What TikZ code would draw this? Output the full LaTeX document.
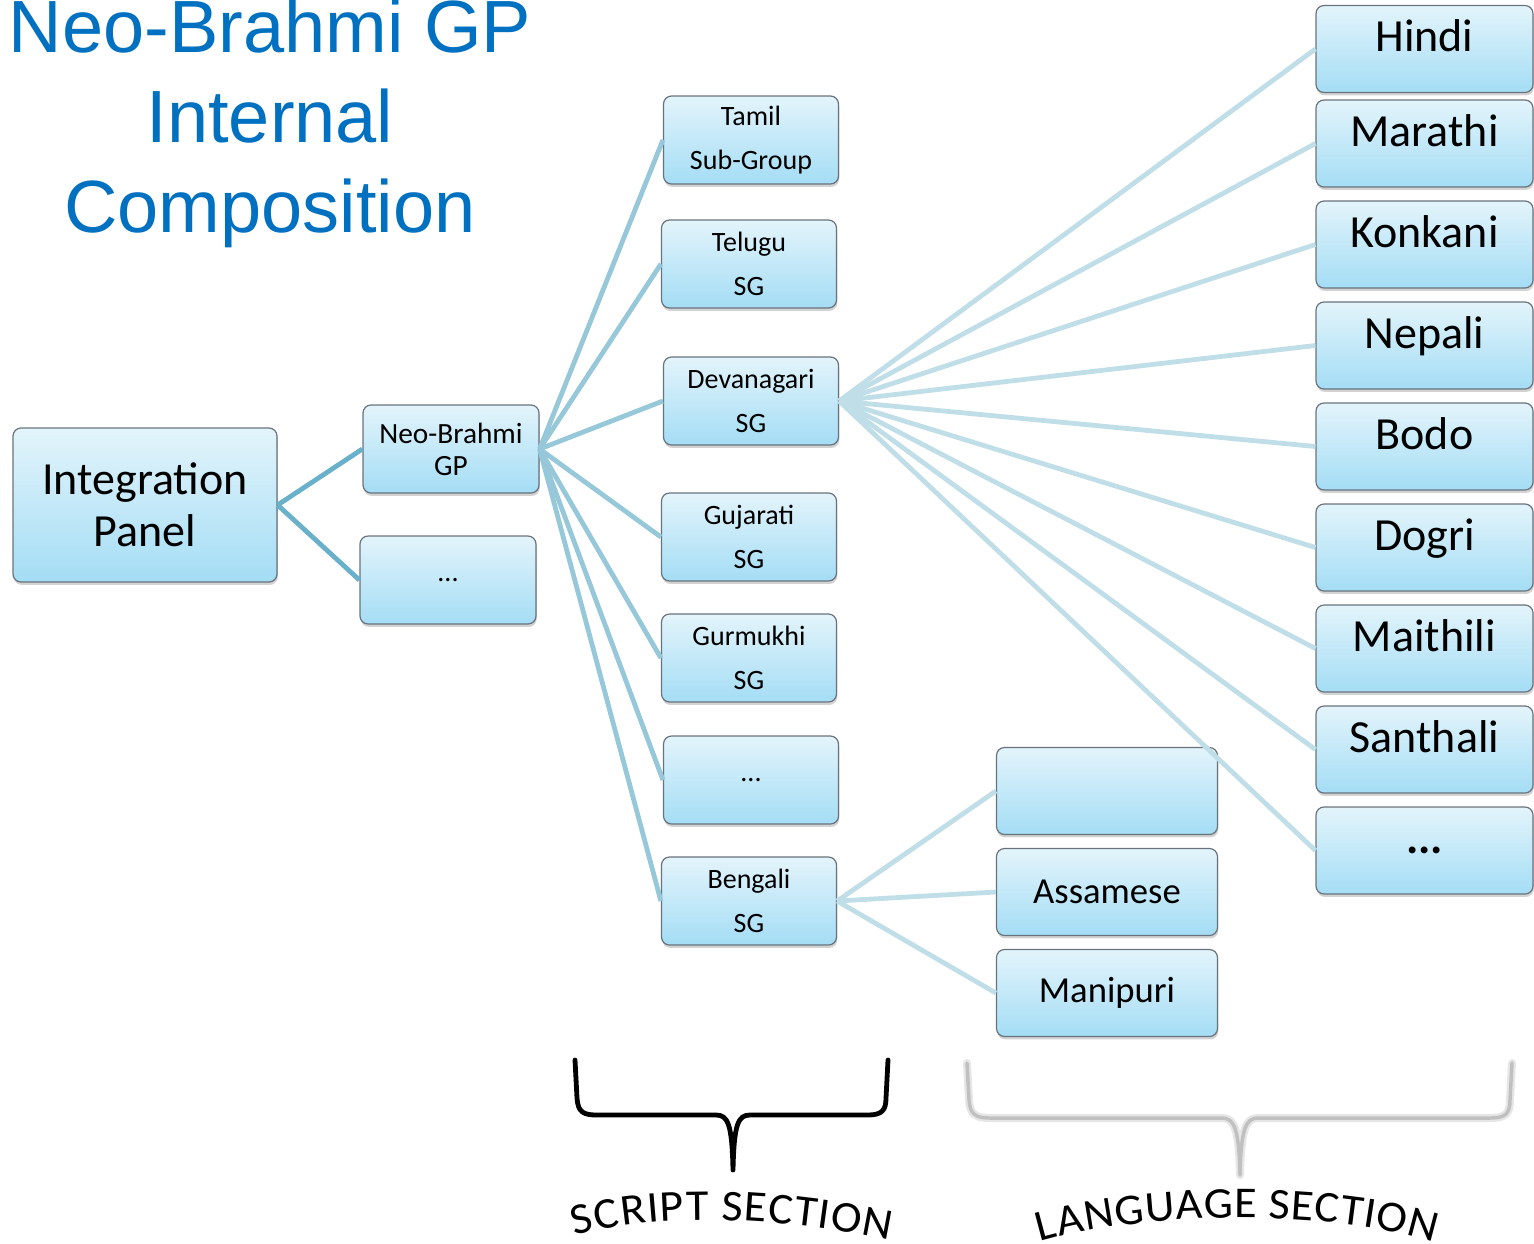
\documentclass[tikz,border=0pt]{standalone}
\usepackage{fontspec}
\setmainfont{Carlito}
\newfontfamily\titlefont{Liberation Sans}
\newfontfamily\wordfont[FakeStretch=1.05]{Carlito}
\usepackage{tikz}
\usetikzlibrary{shadows,decorations.text}

\definecolor{boxtop}{RGB}{227,244,251}
\definecolor{boxbot}{RGB}{164,221,245}
\definecolor{boxedge}{RGB}{105,115,125}
\definecolor{titleblue}{RGB}{0,112,192}
\definecolor{linkA}{RGB}{105,176,202}
\definecolor{linkB}{RGB}{150,200,218}
\definecolor{linkC}{RGB}{192,222,232}
\definecolor{bracegray}{RGB}{192,192,192}

\begin{document}
\begin{tikzpicture}[x=0.75pt,y=-0.75pt,node distance=75.75pt,line join=round]
  \tikzstyle{box}=[draw=boxedge,line width=0.9pt,rounded corners=6pt,
    top color=boxtop,bottom color=boxbot,align=center,inner sep=0pt,
    drop shadow={shadow xshift=0.6pt,shadow yshift=-2.2pt,opacity=0.35}]
  \tikzstyle{sub}=[box,minimum width=131.25pt,minimum height=66pt,
    font=\fontsize{21}{33}\selectfont]
  \tikzstyle{lang}=[box,minimum width=162.75pt,minimum height=65.25pt,
    font=\fontsize{34.5}{40}\selectfont,text height=14pt,text depth=10pt]
  \tikzstyle{langsm}=[box,minimum width=165.75pt,minimum height=65.25pt,
    font=\fontsize{27.5}{32}\selectfont]
  \tikzstyle{link}=[line width=3.6pt]

  \useasboundingbox (0,0) rectangle (1534,1243);

  \node[text=titleblue,font=\titlefont\fontsize{55.5}{67.5}\selectfont,
        align=center,anchor=base] (title) at (270,232)
        {Neo-Brahmi GP\\Internal\\Composition};

  % left part
  \node[box,minimum width=198pt,minimum height=115.5pt,
        font=\fontsize{34.5}{39}\selectfont] (integ) at (145,505) {Integration\\Panel};
  \node[sub,minimum width=132pt,font=\fontsize{22}{24}\selectfont]
        (neo) at (451,449) {Neo-Brahmi\\GP};
  \node[sub,minimum width=132pt] (other) at (448,580) {...};

  % script section
  \node[sub] (tamil)   at (751,140) {Tamil\\Sub-Group};
  \node[sub] (telugu)  at (749,264) {Telugu\\SG};
  \node[sub] (deva)    at (751,401) {Devanagari\\SG};
  \node[sub] (guj)     at (749,537) {Gujarati\\SG};
  \node[sub] (gur)     at (749,658) {Gurmukhi\\SG};
  \node[sub] (sdots)   at (751,780) {...};
  \node[sub] (beng)    at (749,901) {Bengali\\SG};

  % language section
  \node[langsm]                  (blank) at (1107,791) {};
  \node[langsm,below of=blank]   (assam) {Assamese};
  \node[langsm,below of=assam]   (mani)  {Manipuri};

  \node[lang]                    (hindi)    at (1424.5,49)    {Hindi};
  \node[lang]                    (marathi)  at (1424.5,143.5) {Marathi};
  \node[lang,below of=marathi]   (konkani)  {Konkani};
  \node[lang,below of=konkani]   (nepali)   {Nepali};
  \node[lang,below of=nepali]    (bodo)     {Bodo};
  \node[lang,below of=bodo]      (dogri)    {Dogri};
  \node[lang,below of=dogri]     (maithili) {Maithili};
  \node[lang,below of=maithili]  (santhali) {Santhali};
  \node[lang,below of=santhali]  (ldots)    {\textbf{...}};

  % connectors
  \draw[link,linkA] (integ.east) -- (neo.west);
  \draw[link,linkA] (integ.east) -- (other.west);
  \foreach \s in {tamil,telugu,deva,guj,gur,sdots,beng}
    \draw[link,linkB] (neo.east) -- (\s.west);
  \foreach \l in {hindi,marathi,konkani,nepali,bodo,dogri,maithili,santhali,ldots}
    \draw[link,linkC] (deva.east) -- (\l.west);
  \foreach \l in {blank,assam,mani}
    \draw[link,linkC] (beng.east) -- (\l.west);

  % braces
  \draw[line width=3.6pt,line cap=round] (575,1060) -- (577,1098)
    .. controls (578,1112) and (583,1115) .. (597,1115) -- (716,1115)
    .. controls (728,1115) and (732,1124) .. (733,1170)
    .. controls (734,1124) and (738,1115) .. (750,1115) -- (868,1115)
    .. controls (882,1115) and (886,1110) .. (886,1098) -- (888,1060);
  \draw[line width=6pt,bracegray!40,line cap=round] (967,1063) -- (969,1100)
    .. controls (970,1114) and (975,1118) .. (990,1118) -- (1222,1118)
    .. controls (1234,1118) and (1239,1128) .. (1240,1175)
    .. controls (1241,1128) and (1246,1118) .. (1258,1118) -- (1490,1118)
    .. controls (1505,1118) and (1510,1114) .. (1510,1100) -- (1512,1063);
  \draw[line width=2.6pt,bracegray,line cap=round] (967,1063) -- (969,1100)
    .. controls (970,1114) and (975,1118) .. (990,1118) -- (1222,1118)
    .. controls (1234,1118) and (1239,1128) .. (1240,1175)
    .. controls (1241,1128) and (1246,1118) .. (1258,1118) -- (1490,1118)
    .. controls (1505,1118) and (1510,1114) .. (1510,1100) -- (1512,1063);

  % section labels
  \path[decorate,decoration={text along path,text align=fit to path,
        text={|\wordfont\fontsize{33}{36}\selectfont|SCRIPT SECTION}}]
        (575,1236) .. controls (650,1214) and (760,1214) .. (890,1240);
  \path[decorate,decoration={text along path,text align=fit to path,
        text={|\wordfont\fontsize{33}{36}\selectfont|LANGUAGE SECTION}}]
        (1040,1242) .. controls (1150,1210) and (1330,1210) .. (1434,1242);
\end{tikzpicture}
\end{document}
